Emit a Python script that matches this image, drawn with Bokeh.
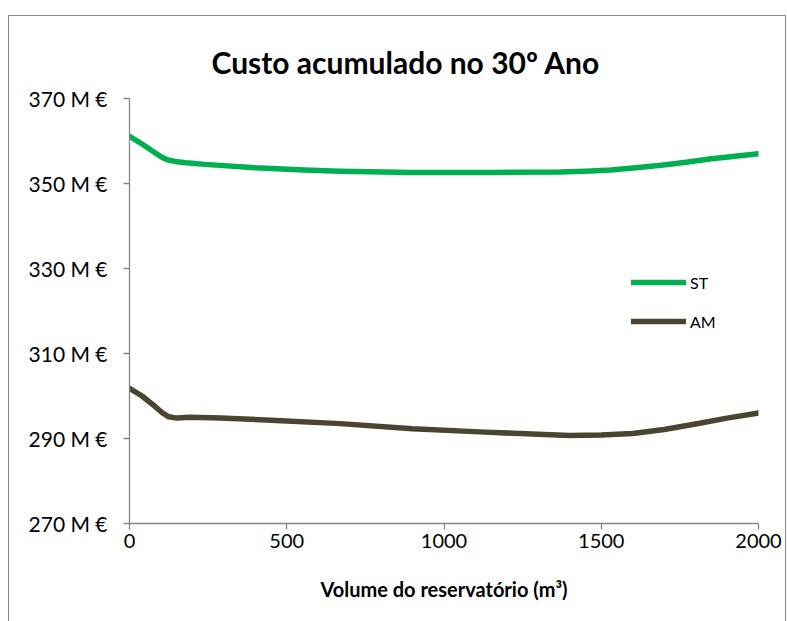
from bokeh.plotting import figure
from bokeh.models import Range1d, FixedTicker, Legend, LegendItem, InlineStyleSheet
from bokeh.embed import file_html
from bokeh.resources import INLINE

# Accumulated cost in year 30 (M €) versus reservoir volume (m³)
volume_st = [0, 40, 80, 100, 120, 145, 180, 240, 400, 555, 670, 900, 1150, 1370, 1450, 1530,
             1610, 1690, 1770, 1850, 1925, 2000]
cost_st = [361.1, 359.3, 357.3, 356.3, 355.6, 355.2, 354.9, 354.5, 353.7, 353.2, 352.9, 352.6,
           352.6, 352.7, 352.9, 353.2, 353.7, 354.3, 355.0, 355.8, 356.4, 357.0]

volume_am = [0, 40, 80, 105, 125, 150, 190, 290, 450, 670, 900, 1130, 1300, 1400, 1500, 1600,
             1700, 1800, 1900, 2000]
cost_am = [301.8, 300.0, 297.6, 296.0, 295.1, 294.8, 295.0, 294.8, 294.3, 293.5, 292.3, 291.5,
           291.0, 290.7, 290.8, 291.2, 292.1, 293.4, 294.8, 296.0]

x_ticks = [0, 500, 1000, 1500, 2000]
y_ticks = [270, 290, 310, 330, 350, 370]
y_tick_labels = ["270 M €", "290 M €", "310 M €", "330 M €", "350 M €", "370 M €"]

series_names = ["ST", "AM"]
series_colors = ["#00B050", "#4A4530"]

title_text = "Custo acumulado no 30º Ano"
x_title = "Volume do reservatório (m³)"

FONT = "Lato"
AXIS_GREY = "#868686"

p = figure(width=787, height=621, output_backend="svg", toolbar_location=None,
           x_range=Range1d(0, 2000), y_range=Range1d(270, 370),
           min_border_left=129, min_border_right=29, min_border_top=98,
           min_border_bottom=98)
p.outline_line_color = None
p.xgrid.visible = False
p.ygrid.visible = False
p.background_fill_color = "white"
p.border_fill_color = "white"

p.title.text = title_text
p.title.align = "left"
p.title.offset = 82
p.title.standoff = 38
p.title.text_font = FONT
p.title.text_font_style = "bold"
p.title.text_font_size = "30px"
p.title.text_color = "black"

for ax in (p.xaxis[0], p.yaxis[0]):
    ax.axis_line_color = AXIS_GREY
    ax.axis_line_width = 1.3
    ax.major_tick_line_color = AXIS_GREY
    ax.major_tick_line_width = 1.3
    ax.major_tick_in = 0
    ax.major_tick_out = 6
    ax.minor_tick_line_color = None
    ax.major_label_text_font = FONT
    ax.major_label_text_font_size = "20px"
    ax.major_label_text_color = "black"

p.xaxis.ticker = FixedTicker(ticks=x_ticks)
p.xaxis.major_label_standoff = 4
p.xaxis.axis_label = x_title
p.xaxis.axis_label_text_font = FONT
p.xaxis.axis_label_text_font_style = "bold"
p.xaxis.axis_label_text_font_size = "20px"
p.xaxis.axis_label_text_color = "black"
p.xaxis.axis_label_standoff = 26

p.yaxis.ticker = FixedTicker(ticks=y_ticks)
p.yaxis.major_label_overrides = {v: s for v, s in zip(y_ticks, y_tick_labels)}
p.yaxis.major_label_text_font_size = "21px"
p.yaxis.major_label_standoff = 16

r_st = p.line(volume_st, cost_st, line_color=series_colors[0], line_width=5.5,
              line_join="round", line_cap="round")
r_am = p.line(volume_am, cost_am, line_color=series_colors[1], line_width=5.5,
              line_join="round", line_cap="round")

legend = Legend(items=[LegendItem(label=series_names[0], renderers=[r_st]),
                       LegendItem(label=series_names[1], renderers=[r_am])],
                location=(502, 192), orientation="vertical",
                glyph_width=55, glyph_height=20, label_height=20, spacing=19,
                label_standoff=4, padding=0, margin=0,
                background_fill_alpha=0, border_line_color=None,
                label_text_font=FONT, label_text_font_size="16px",
                label_text_color="black")
p.add_layout(legend)

# chart-area border drawn over the plot's host element
p.stylesheets = [InlineStyleSheet(css="""
:host { position: relative; }
:host::after {
  content: "";
  position: absolute;
  left: 8px; top: 15px; width: 776px; height: 700px;
  border: 1.5px solid #898989;
  pointer-events: none;
}
""")]

open("out.html", "w").write(file_html(p, INLINE))
